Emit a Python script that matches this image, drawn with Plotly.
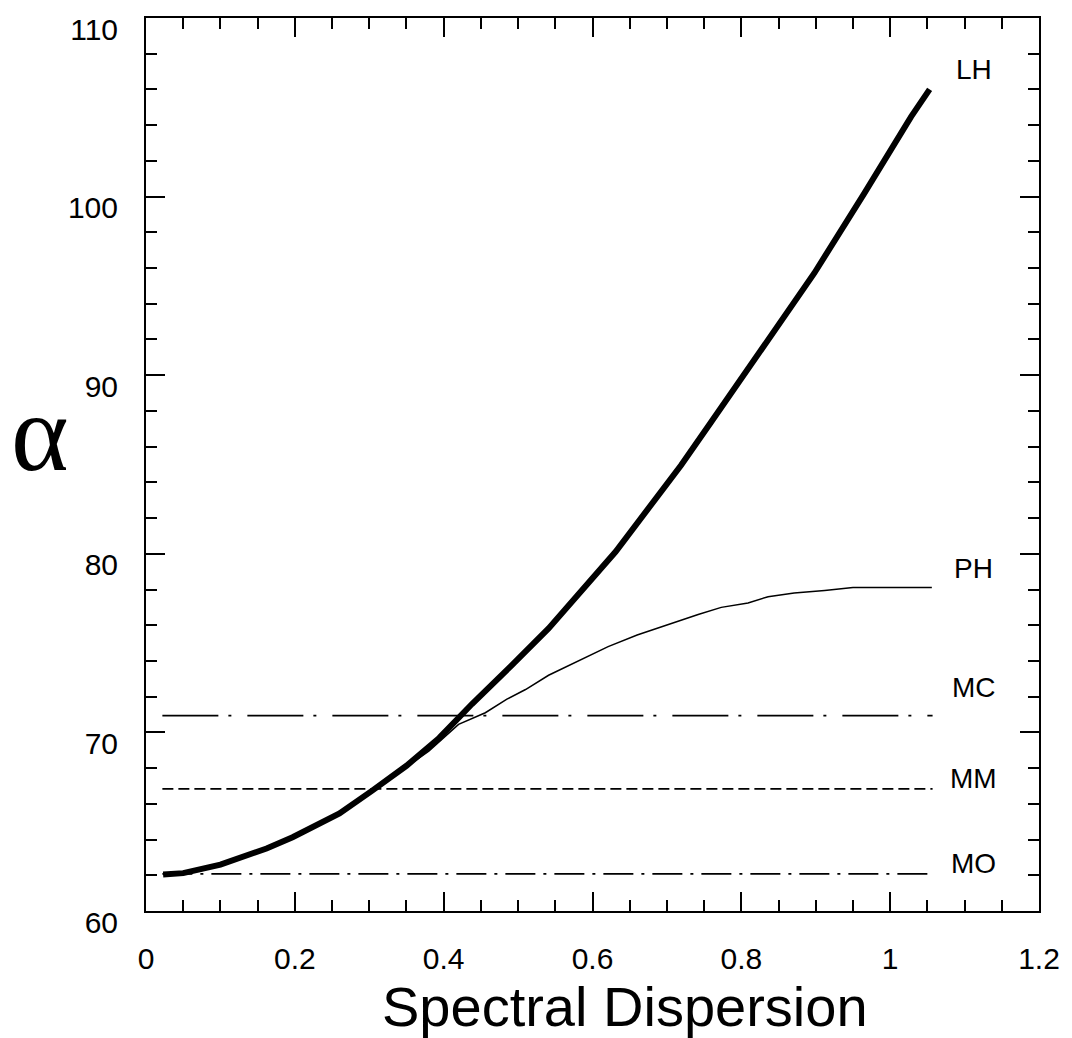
import plotly.graph_objects as go

# ---- data ----
lh_x = [0.023, 0.05, 0.1, 0.126, 0.162, 0.197, 0.26, 0.304, 0.35, 0.394, 0.438,
        0.49, 0.541, 0.631, 0.719, 0.759, 0.805, 0.831, 0.898, 0.965, 1.028, 1.053]
lh_y = [62.05, 62.12, 62.6, 63.0, 63.5, 64.13, 65.46, 66.74, 68.13, 69.69, 71.59,
        73.7, 75.82, 80.11, 84.96, 87.35, 90.14, 91.64, 95.71, 100.17, 104.46, 106.0]

ph_x = [0.023, 0.05, 0.1, 0.15, 0.2, 0.25, 0.3, 0.35, 0.38, 0.42, 0.456, 0.485,
        0.51, 0.541, 0.58, 0.621, 0.66, 0.698, 0.742, 0.773, 0.809, 0.836, 0.871,
        0.912, 0.95, 1.056]
ph_y = [62.05, 62.12, 62.6, 63.3, 64.2, 65.25, 66.6, 68.1, 68.95, 70.45, 71.1, 71.86,
        72.4, 73.2, 74.0, 74.8, 75.45, 76.0, 76.6, 77.0, 77.25, 77.6, 77.8,
        77.95, 78.12, 78.12]

ref_x = [0.022, 1.057]
mc_y = 70.94
mm_y = 66.84
mo_y = 62.08

series_labels = ["LH", "PH", "MC", "MM", "MO"]
x_tick_vals = [0, 0.2, 0.4, 0.6, 0.8, 1.0, 1.2]
x_tick_text = ["0", "0.2", "0.4", "0.6", "0.8", "1", "1.2"]
y_tick_vals = [60, 70, 80, 90, 100, 110]
y_tick_text = ["60", "70", "80", "90", "100", "110"]
x_title = "Spectral Dispersion"
y_title = "α"

FONT = "Liberation Sans, Arial, sans-serif"

fig = go.Figure()

fig.add_trace(go.Scatter(x=ref_x, y=[mc_y, mc_y], mode="lines",
                         line=dict(color="black", width=1.6, dash="56px,10px,3px,16px")))
fig.add_trace(go.Scatter(x=ref_x, y=[mm_y, mm_y], mode="lines",
                         line=dict(color="black", width=1.6, dash="11px,5px")))
fig.add_trace(go.Scatter(x=ref_x, y=[mo_y, mo_y], mode="lines",
                         line=dict(color="black", width=1.6, dash="30px,8px,3px,8px")))
fig.add_trace(go.Scatter(x=ph_x, y=ph_y, mode="lines",
                         line=dict(color="black", width=1.5)))
fig.add_trace(go.Scatter(x=lh_x, y=lh_y, mode="lines",
                         line=dict(color="black", width=6)))

# curve labels, placed just right of each curve's end
label_y = [lh_y[-1] + 1.1, ph_y[-1] + 1.05, mc_y + 1.6, mm_y + 0.6, mo_y + 0.6]
for name, yy in zip(series_labels, label_y):
    fig.add_annotation(x=1.112, y=yy, xref="x", yref="y", text=name, showarrow=False,
                       font=dict(family=FONT, size=28, color="black"),
                       xanchor="center", yanchor="middle")

# axis titles
fig.add_annotation(x=0.536, y=-0.1065, xref="paper", yref="paper", text=x_title,
                   showarrow=False, font=dict(family=FONT, size=56, color="black"),
                   xanchor="center", yanchor="middle")
fig.add_annotation(x=-0.119, y=0.535, xref="paper", yref="paper", text=y_title,
                   showarrow=False,
                   font=dict(family="Liberation Serif, Times New Roman, serif", size=110,
                             color="black"),
                   xanchor="center", yanchor="middle")

axis_common = dict(showgrid=False, zeroline=False, showline=True, linecolor="black",
                   linewidth=2, mirror="allticks", ticks="inside", tickwidth=2,
                   ticklen=19, tickcolor="black",
                   tickfont=dict(family=FONT, size=30, color="black"))

fig.update_xaxes(range=[0, 1.2], tickvals=x_tick_vals, ticktext=x_tick_text,
                 ticklabelstandoff=20,
                 minor=dict(dtick=0.05, tick0=0, ticks="inside", ticklen=11,
                            tickwidth=2, tickcolor="black"),
                 **axis_common)
fig.update_yaxes(range=[60, 110], tickvals=y_tick_vals, ticktext=y_tick_text,
                 ticklabelstandoff=20, ticklabelshift=11,
                 minor=dict(dtick=2, tick0=60, ticks="inside", ticklen=11,
                            tickwidth=2, tickcolor="black"),
                 **axis_common)

fig.update_layout(width=1072, height=1038,
                  margin=dict(l=146, r=30, t=13, b=127, pad=0),
                  paper_bgcolor="white", plot_bgcolor="white",
                  showlegend=False,
                  font=dict(family=FONT, color="black"))

fig.write_html("out.html",
               config={"displayModeBar": False},
               post_script="document.body.style.margin='0';"
                           "document.body.style.overflow='hidden';")
